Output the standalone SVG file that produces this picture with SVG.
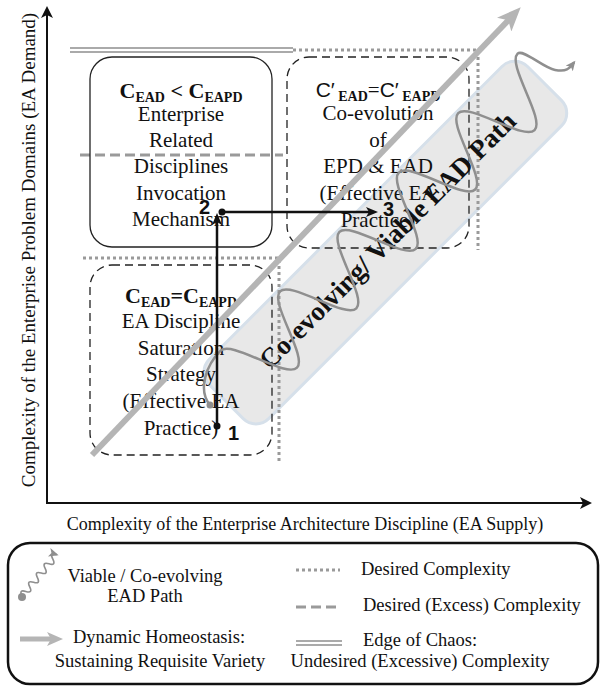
<svg xmlns="http://www.w3.org/2000/svg" width="602" height="689" viewBox="0 0 602 689">
  <style>
    text { font-family: "Liberation Serif", "Times New Roman", serif; fill: #111; }
    .box { fill: none; stroke: #222; stroke-width: 1.3; }
    .dashed { stroke-dasharray: 8 5; }
    .t { font-size: 21px; text-anchor: middle; }
    .hd { font-size: 22px; font-weight: bold; text-anchor: middle; }
    .sub { font-size: 14px; font-weight: bold; font-family: "Liberation Serif", "Times New Roman", serif; }
    .sans { font-family: "Liberation Sans", Arial, sans-serif; font-weight: normal; }
    .num { font-family: "Liberation Sans", Arial, sans-serif; font-size: 20px; font-weight: bold; }
    .desired { fill: none; stroke: #9a9a9a; stroke-width: 3; stroke-dasharray: 3 3; }
    .excess { fill: none; stroke: #9a9a9a; stroke-width: 3; stroke-dasharray: 10 5; }
    .chaos { fill: none; stroke: #aaa; stroke-width: 2; }
    .homeo { fill: none; stroke: #b5b5b5; stroke-width: 6; }
    .wave { fill: none; stroke: #8f8f8f; stroke-width: 2.5; }
    .flow { fill: none; stroke: #111; stroke-width: 2.5; }
    .axis { fill: none; stroke: #111; stroke-width: 2; }
    .leg { font-size: 18.5px; }
  </style>
  <defs>
    <marker id="axisHead" markerUnits="userSpaceOnUse" markerWidth="14" markerHeight="12" refX="10" refY="6" orient="auto">
      <path d="M0,0 L12,6 L0,12 L3,6 z" fill="#111"/>
    </marker>
    <marker id="flowHead" markerUnits="userSpaceOnUse" markerWidth="13" markerHeight="10" refX="4" refY="5" orient="auto">
      <path d="M0,0 L12,5 L0,10 L3,5 z" fill="#111"/>
    </marker>
    <marker id="homeoHead" markerUnits="userSpaceOnUse" markerWidth="25" markerHeight="20" refX="15" refY="10" orient="auto">
      <path d="M0,0 L24,10 L0,20 L6,10 z" fill="#b5b5b5"/>
    </marker>
    <marker id="homeoHeadSmall" markerUnits="userSpaceOnUse" markerWidth="17" markerHeight="14" refX="9" refY="7" orient="auto">
      <path d="M0,0 L16,7 L0,14 L4,7 z" fill="#b5b5b5"/>
    </marker>
    <marker id="waveHead" markerUnits="userSpaceOnUse" markerWidth="11" markerHeight="9" refX="8" refY="4.5" orient="auto">
      <path d="M0,0 L10,4.5 L0,9 L2.5,4.5 z" fill="#8f8f8f"/>
    </marker>
  </defs>

  <!-- co-evolving band -->
  <rect id="band" x="-124" y="402" width="450" height="84" rx="18" transform="rotate(-45)" fill="#e8e8e8" stroke="#d6e0ea" stroke-width="3"/>

  <!-- complexity boundaries -->
  <g id="boundaries">
    <line class="chaos" x1="70" y1="48" x2="293" y2="48"/>
    <line class="chaos" x1="70" y1="52" x2="293" y2="52"/>
    <polyline class="desired" points="293,50 478,50 478,250"/>
    <polyline class="desired" points="83,258 279,258 279,463"/>
    <line class="excess" x1="80" y1="155" x2="283" y2="155"/>
  </g>

  <!-- axes -->
  <g id="axes">
    <line class="axis" x1="47" y1="503" x2="47" y2="8" marker-end="url(#axisHead)"/>
    <line class="axis" x1="46" y1="503" x2="590" y2="503" marker-end="url(#axisHead)"/>
    <text transform="translate(35,250) rotate(-90)" text-anchor="middle" font-size="19">Complexity of the Enterprise Problem Domains  (EA Demand)</text>
    <text x="305" y="530" text-anchor="middle" font-size="18">Complexity of the Enterprise Architecture Discipline (EA Supply)</text>
  </g>

  <!-- state 2: invocation mechanism -->
  <g id="node-invocation">
    <rect class="box" x="90" y="57" width="182" height="190" rx="22"/>
    <text class="hd" x="181" y="98">C<tspan class="sub" dy="4">EAD</tspan><tspan dy="-4"> &lt; C</tspan><tspan class="sub" dy="4">EAPD</tspan></text>
    <text class="t" x="181" y="121">Enterprise</text>
    <text class="t" x="181" y="147">Related</text>
    <text class="t" x="181" y="173">Disciplines</text>
    <text class="t" x="181" y="200">Invocation</text>
    <text class="t" x="181" y="226">Mechanism</text>
  </g>

  <!-- state 3: co-evolution -->
  <g id="node-coevolution">
    <rect class="box dashed" x="287" y="57" width="182" height="191" rx="22"/>
    <text class="t" x="378" y="97"><tspan class="sans">C′</tspan><tspan class="sub" dy="4"> EAD</tspan><tspan dy="-4">=</tspan><tspan class="sans">C′</tspan><tspan class="sub" dy="4"> EAPD</tspan></text>
    <text class="t" x="378" y="120">Co-evolution</text>
    <text class="t" x="378" y="147">of</text>
    <text class="t" x="378" y="173">EPD &amp; EAD</text>
    <text class="t" x="378" y="200">(Effective EA</text>
    <text class="t" x="378" y="227">Practice)</text>
  </g>

  <!-- state 1: saturation strategy -->
  <g id="node-saturation">
    <rect class="box dashed" x="90" y="265" width="182" height="190" rx="22"/>
    <text class="hd" x="181" y="303">C<tspan class="sub" dy="4">EAD</tspan><tspan dy="-4">=C</tspan><tspan class="sub" dy="4">EAPD</tspan></text>
    <text class="t" x="181" y="328">EA Discipline</text>
    <text class="t" x="181" y="355">Saturation</text>
    <text class="t" x="181" y="381">Strategy</text>
    <text class="t" x="181" y="408">(Effective EA</text>
    <text class="t" x="181" y="435">Practice)</text>
  </g>

  <!-- band label -->
  <text id="band-label" transform="rotate(-45)" x="104" y="453" text-anchor="middle" font-size="27" font-weight="bold">Co-evolving/ Viable EAD Path</text>

  <!-- connectors -->
  <g id="connectors">
    <line class="homeo" x1="92" y1="455" x2="514.5" y2="13.8" marker-end="url(#homeoHead)"/>
    <g transform="rotate(-45)">
      <path class="wave" marker-end="url(#waveHead)" d="M -138 435 C -136 415 -112 404 -92 404 C -84.44 404 -78.02 419.67 -71 437 S -57.56 470 -50 470 S -36.02 454.33 -29 437 S -15.56 404 -8 404 S 5.98 419.67 13 437 S 26.44 470 34 470 S 47.98 454.33 55 437 S 68.44 404 76 404 S 89.98 419.67 97 437 S 110.44 470 118 470 S 131.98 454.33 139 437 S 152.44 404 160 404 S 173.98 419.67 181 437 S 194.44 470 202 470 S 215.98 454.33 223 437 S 236.44 404 244 404 S 257.98 419.67 265 437 S 278.44 470 286 470 S 299.98 454.33 307 437 S 320.44 404 328 404 C 335.56 404 336 432 343 442 S 354 451 362 450"/>
    </g>
    <circle cx="210" cy="405" r="3.5" fill="#8f8f8f"/>
    <line class="flow" x1="217" y1="426" x2="217" y2="221" marker-end="url(#flowHead)"/>
    <line class="flow" x1="222" y1="212" x2="370" y2="212" marker-end="url(#flowHead)"/>
    <circle cx="217" cy="426" r="3.5" fill="#111"/>
    <circle cx="222" cy="212" r="3.5" fill="#111"/>
    <text class="num" x="228" y="440">1</text>
    <text class="num" x="199" y="214">2</text>
    <text class="num" x="383" y="216">3</text>
  </g>

  <!-- legend -->
  <g id="legend">
    <rect x="8" y="543" width="590" height="141" rx="22" fill="none" stroke="#111" stroke-width="2.5"/>
    <g transform="translate(22,596) rotate(-50)">
      <path fill="none" stroke="#8f8f8f" stroke-width="1.6" marker-end="url(#waveHead)" d="M0,0 q3,-7 6,0 t6,0 t6,0 t6,0 t6,0 t6,0 t6,0 t6,0 t6,0"/>
    </g>
    <circle cx="22" cy="597" r="4" fill="#8f8f8f"/>
    <text class="leg" x="145" y="582" text-anchor="middle">Viable / Co-evolving</text>
    <text class="leg" x="145" y="602" text-anchor="middle">EAD Path</text>

    <line x1="20" y1="639" x2="56" y2="639" stroke="#b5b5b5" stroke-width="5" marker-end="url(#homeoHeadSmall)"/>
    <text class="leg" x="159" y="643" text-anchor="middle">Dynamic Homeostasis:</text>
    <text class="leg" x="160" y="667" text-anchor="middle">Sustaining Requisite Variety</text>

    <line class="desired" x1="296" y1="570" x2="340" y2="570"/>
    <text class="leg" x="361" y="575">Desired Complexity</text>

    <line class="excess" x1="296" y1="607" x2="340" y2="607"/>
    <text class="leg" x="363" y="611">Desired (Excess) Complexity</text>

    <line class="chaos" x1="296" y1="641" x2="342" y2="641"/>
    <line class="chaos" x1="296" y1="645" x2="342" y2="645"/>
    <text class="leg" x="363" y="646">Edge of Chaos:</text>
    <text class="leg" x="420" y="667" text-anchor="middle">Undesired (Excessive) Complexity</text>
  </g>
</svg>
